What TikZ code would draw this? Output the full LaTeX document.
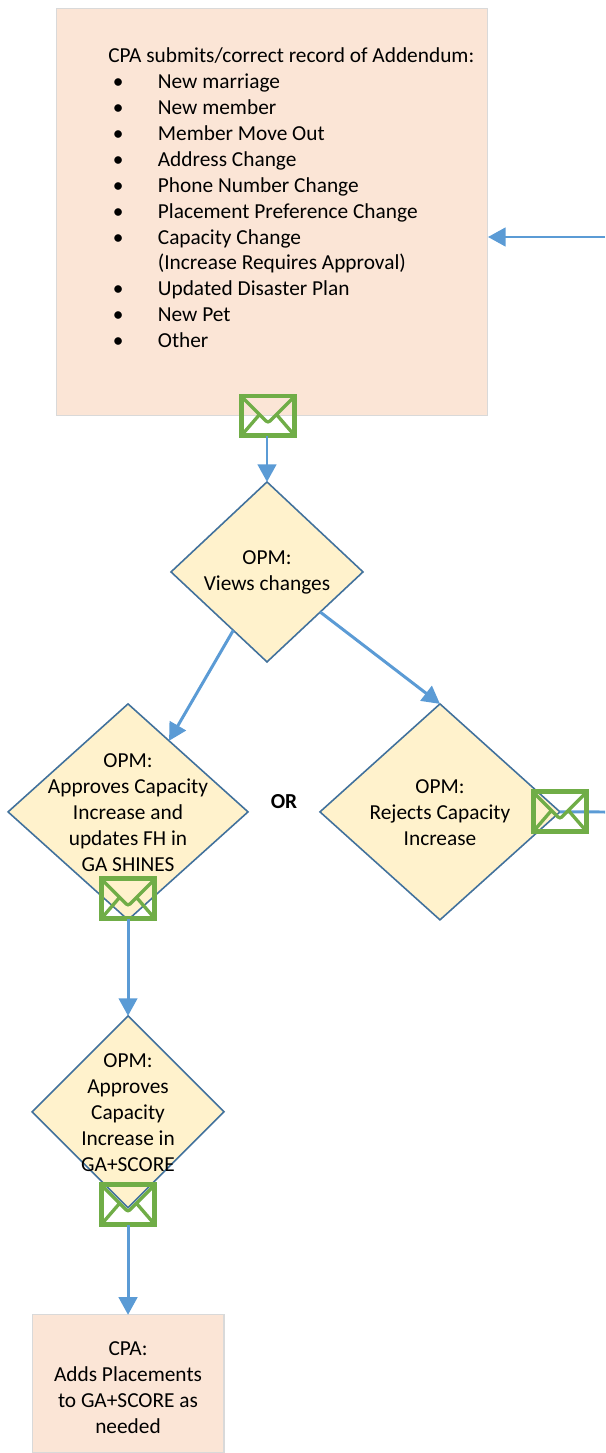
\documentclass[tikz,border=0pt]{standalone}
\usepackage{fontspec}
\setmainfont{Carlito}
\usetikzlibrary{positioning,shapes.geometric,arrows.meta}
\definecolor{boxfill}{HTML}{FBE5D6}
\definecolor{boxline}{HTML}{D9D9D9}
\definecolor{decfill}{HTML}{FFF2CC}
\definecolor{decline}{HTML}{41719C}
\definecolor{flowline}{HTML}{5B9BD5}
\definecolor{mailline}{HTML}{70AD47}
\newcommand{\listrow}[1]{\makebox[28.2pt][l]{\hspace{2.6pt}\textbullet}#1}
\begin{document}
\begin{tikzpicture}[x=0.02cm,y=-0.02cm,
    textsize/.style={font=\fontsize{12.15}{14.75}\selectfont},
    main box/.style={rectangle,draw=boxline,fill=boxfill,line width=0.6pt,outer sep=0pt,inner sep=0pt},
    main dec/.style={diamond,draw=decline,fill=decfill,line width=0.9pt,outer sep=0pt,inner sep=0pt,aspect=1},
    main text/.style={textsize,align=center,inner sep=0pt,yshift=-0.01cm},
    flow/.style={draw=flowline,line width=1.7pt,-{Triangle[length=10pt,width=10.5pt]}},
    main mail/.style={rectangle,draw=mailline,line width=2.8pt,outer sep=0pt,inner sep=0pt,
      minimum width=1.06cm,minimum height=0.8cm,
      path picture={\draw[mailline,line width=1.9pt,rounded corners=1.5pt,
          shift={(path picture bounding box.center)}]
        (-27,-20) -- (0,7) -- (27,-20) (-27,20) -- (-8,-2) (27,20) -- (8,-2);}}]
  \useasboundingbox (0,0) rectangle (605,1453);

  \node[main box,minimum width=8.64cm,minimum height=8.16cm] (addendum) at (272,212) {};
  \node[main text,align=left,anchor=north west] (items) at (108,47) {CPA submits/correct record of Addendum:\\
    \listrow{New marriage}\\
    \listrow{New member}\\
    \listrow{Member Move Out}\\
    \listrow{Address Change}\\
    \listrow{Phone Number Change}\\
    \listrow{Placement Preference Change}\\
    \listrow{Capacity Change}\\
    \hspace{28.2pt}(Increase Requires Approval)\\
    \listrow{Updated Disaster Plan}\\
    \listrow{New Pet}\\
    \listrow{Other}};

  \node[main dec,minimum width=3.84cm,minimum height=3.6cm] (views) [below of=addendum,node distance=7.2cm,xshift=-0.1cm] {};
  \node[main text] (viewstext) at (views) {OPM:\\Views changes};
  \node[main dec,minimum width=4.8cm,minimum height=4.32cm] (approve) [below of=views,node distance=4.8cm,xshift=-2.78cm] {};
  \node[main text] (approvetext) at (approve) {OPM:\\Approves Capacity\\Increase and\\updates FH in\\GA SHINES};
  \node[main dec,minimum width=4.8cm,minimum height=4.32cm] (reject) [right of=approve,node distance=6.24cm] {};
  \node[main text] (rejecttext) at (reject) {OPM:\\Rejects Capacity\\Increase};
  \node[main text,font=\fontsize{12.15}{14.75}\selectfont\bfseries] (ortext) at (284,801) {OR};
  \node[main dec,minimum width=3.84cm,minimum height=3.84cm] (score) [below of=approve,node distance=6cm] {};
  \node[main text] (scoretext) at (score) {OPM:\\Approves\\Capacity\\Increase in\\GA+SCORE};
  \node[main box,minimum width=3.84cm,minimum height=2.76cm] (placements) [below of=score,node distance=5.44cm] {};
  \node[main text] (placementstext) [below of=score,node distance=5.5cm] {CPA:\\Adds Placements\\to GA+SCORE as\\needed};

  \coordinate (offout) at (605,812);
  \coordinate (offin) at (605,237);
  \draw[draw=flowline,line width=1.7pt] (reject.east) -- (offout);
  \draw[flow] (offin) -- (offin -| addendum.east);

  \node[main mail] (mailadd) [below of=addendum,node distance=4.08cm,xshift=-0.08cm] {};
  \node[main mail] (mailreject) [right of=reject,node distance=2.4cm] {};
  \node[main mail] (mailapprove) [below of=approve,node distance=1.74cm] {};
  \node[main mail] (mailscore) [below of=score,node distance=1.86cm] {};

  \draw[flow] (mailadd.south -| views.north) -- (views.north);
  \draw[flow] (views.240) -- (approve.60);
  \draw[flow] (views.-37) -- (reject.north);
  \draw[flow] (mailapprove.south) -- (score.north);
  \draw[flow] (mailscore.south) -- (placements.north);
\end{tikzpicture}
\end{document}
